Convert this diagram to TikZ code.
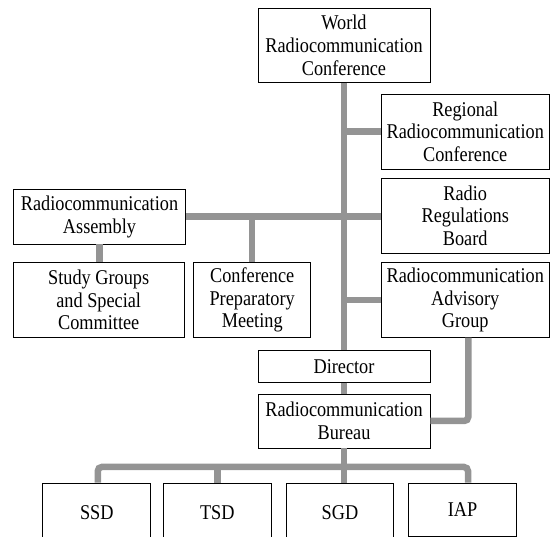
\documentclass[tikz,border=0pt]{standalone}
\usepackage{fontspec}
\setmainfont{Liberation Serif}[FakeStretch=0.87]
\usepackage{tikz}

\begin{document}
\begin{tikzpicture}[x=1pt, y=-1pt,
        box/.style={draw, line width=0.8pt, fill=white, inner sep=0pt, align=center,
            font=\fontsize{21}{22.7}\selectfont},
        bar/.style={line width=6.5pt, draw=black!42}]
        \useasboundingbox (0,0) rectangle (550,537);
        % top level
        \node[box, minimum width=172pt, minimum height=74pt] (wrc) at (344,45.5) {World\\Radiocommunication\\Conference};
        \node[box, minimum width=167.5pt, minimum height=75pt] (rrc) at (465.25,131.7) {Regional\\Radiocommunication\\Conference};
        \node[box, minimum width=167.5pt, minimum height=75pt] (rrb) at (465.25,215.8) {Radio\\Regulations\\Board};
        \node[box, minimum width=172.4pt, minimum height=54.7pt] (asm) at (99.5,216.7) {Radiocommunication\\Assembly};
        \node[box, minimum width=171.3pt, minimum height=74.6pt] (sg) at (98.7,300) {Study Groups\\and Special\\Committee};
        \node[box, minimum width=117pt, minimum height=74.6pt] (cpm) at (252.2,300) {Conference\\Preparatory\\Meeting};
        \node[box, minimum width=167.5pt, minimum height=74.6pt] (rag) at (465.25,300) {Radiocommunication\\Advisory\\Group};
        % bureau
        \node[box, minimum width=172pt, minimum height=32.3pt] (dir) at (344,366.2) {Director};
        \node[box, minimum width=172pt, minimum height=54pt] (bur) at (344,421) {Radiocommunication\\Bureau};
        \node[box, minimum width=108pt, minimum height=60pt] (ssd) at (96.8,513) {SSD};
        \node[box, minimum width=107.5pt, minimum height=60pt] (tsd) at (217.3,513) {TSD};
        \node[box, minimum width=107.3pt, minimum height=60pt] (sgd) at (340,513) {SGD};
        \node[box, minimum width=108pt, minimum height=53pt] (iap) at (462.5,509.5) {IAP};
        \coordinate (bus) at (344,467);

        \draw[bar] (wrc.south) -- (dir.north);
        \draw[bar] (dir.south) -- (bur.north);
        \draw[bar] (wrc.south |- rrc.west) -- (rrc.west);
        \draw[bar] (asm.east) -- (asm.east -| rrb.west);
        \draw[bar] (wrc.south |- rag.west) -- (rag.west);
        \draw[bar] (cpm.north) -- (cpm.north |- asm.east);
        \draw[bar] (asm.south) -- (asm.south |- sg.north);
        \draw[bar, rounded corners=4pt] ([xshift=3pt]rag.south) |- (bur.east);
        % divisions
        \draw[bar, rounded corners=4pt] ([xshift=1pt]ssd.north) |- (bus) -| ([xshift=5.5pt]iap.north);
        \draw[bar] (bur.south) -- (bur.south |- sgd.north);
        \draw[bar] (tsd.north) -- (tsd.north |- bus);
    \end{tikzpicture}
\end{document}
